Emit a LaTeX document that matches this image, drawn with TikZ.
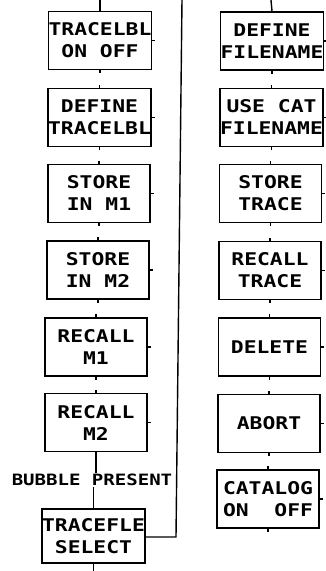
\documentclass[tikz,border=0pt]{standalone}
\usepackage{fontspec}
\newfontfamily\plotfont[FakeStretch=1.22]{DejaVu Sans Mono}
\begin{document}
\begin{tikzpicture}[x=1pt,y=-1pt,
  keybox/.style={draw,line width=1.6pt,minimum width=102pt,minimum height=58pt,inner sep=0pt,
    align=center,font=\plotfont\bfseries\fontsize{17.5}{22}\selectfont},
  lbl/.style={inner sep=1pt,font=\plotfont\bfseries\fontsize{15.6}{20}\selectfont},
  wire/.style={line width=1.4pt},
  stub/.style={line width=1.4pt}]
\useasboundingbox (0,0) rectangle (325,571);
% left column
\node[keybox] (L1) at (100,40.5) {TRACELBL\\ON OFF};
\node[keybox] (L2) at (99.5,117.5) {DEFINE\\TRACELBL};
\node[keybox] (L3) at (99,193.5) {STORE\\IN M1};
\node[keybox] (L4) at (98,270) {STORE\\IN M2};
\node[keybox] (L5) at (96,347) {RECALL\\M1};
\node[keybox] (L6) at (96,422.5) {RECALL\\M2};
\node[lbl] (bp) at (92,480) {BUBBLE PRESENT};
\node[keybox,minimum height=54pt] (L7) at (93.5,536) {TRACEFLE\\SELECT};
% right column
\node[keybox] (R1) at (272,41) {DEFINE\\FILENAME};
\node[keybox] (R2) at (271.5,117.5) {USE CAT\\FILENAME};
\node[keybox] (R3) at (270.5,193.5) {STORE\\TRACE};
\node[keybox] (R4) at (270,270.5) {RECALL\\TRACE};
\node[keybox] (R5) at (269.5,347) {DELETE};
\node[keybox] (R6) at (269,423.5) {ABORT};
\node[keybox] (R7) at (268,499) {CATALOG\\ON\ \ OFF};
% connectors
\coordinate (tl) at (100,0);
\coordinate (tr) at (271,0);
\coordinate (cb) at (176,537);
\coordinate (ct) at (182,0);
\coordinate (bot) at (93.5,571);
\draw[wire] (tl) -- (L1.north);
\draw[wire] (tr) -- (R1.north);
\draw[wire] (L6.south) -- (L6.south |- bp.north);
\draw[wire] (L7.north |- bp.south) -- (L7.north);
\draw[wire] (L7.east |- cb) -- (cb) -- (ct);
\draw[wire] (L7.south) -- (bot);
% stubs
\foreach \n in {L1,L2,L3,L4,L5,R1,R2,R3,R4,R5,R6,R7}
  \draw[stub] (\n.south) -- ++(0,3);
\foreach \n in {L2,L3,L4,L5,L6,R2,R3,R4,R5,R6,R7}
  \draw[stub] (\n.north) -- ++(0,-3);
\foreach \n in {L1,L2,L3,L4,L5,L6,R1,R2,R3,R4,R5,R6,R7}
  \draw[stub] (\n.east) -- ++(3,0);
\end{tikzpicture}
\end{document}
